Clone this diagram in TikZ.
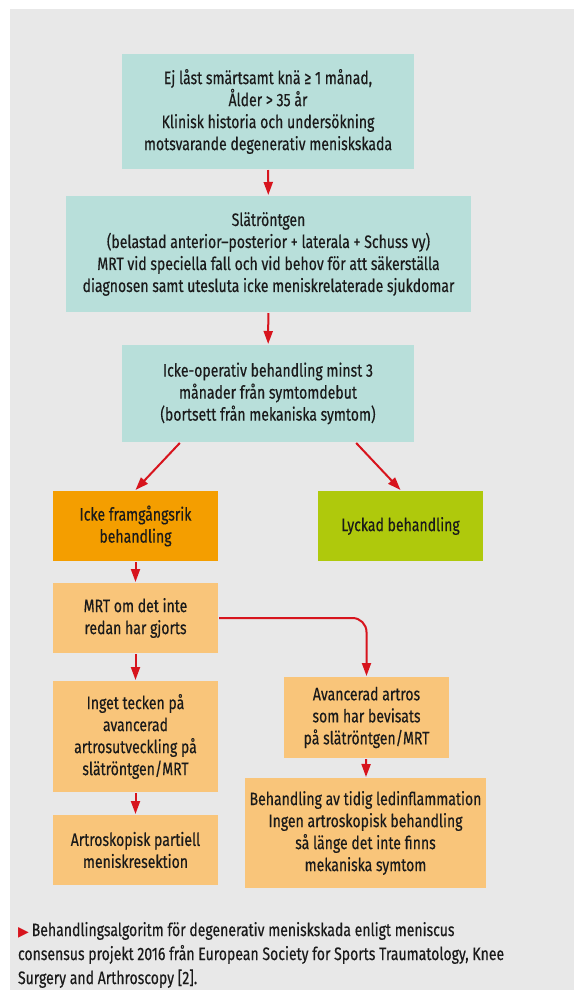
\documentclass[tikz,border=0pt]{standalone}
\usepackage{fontspec}
\setmainfont{Fira Sans}[FakeStretch=0.78,FakeBold=0.4]
\newfontfamily\symfont{DejaVu Sans}
\usetikzlibrary{arrows.meta,positioning,calc}

\definecolor{bggray}{HTML}{E8E8E8}
\definecolor{tealbox}{HTML}{B8DFDA}
\definecolor{darkorange}{HTML}{F49E00}
\definecolor{limegreen}{HTML}{AFC90C}
\definecolor{lightorange}{HTML}{F9C57A}
\definecolor{arrowred}{HTML}{D7141D}
\definecolor{inkblack}{HTML}{1A1A1A}

\begin{document}
\begin{tikzpicture}[->,>={Triangle[length=13pt,width=9pt]},x=1pt,y=-1pt,line width=2pt,draw=arrowred]

            \tikzstyle{every node}=[text=inkblack,font=\fontsize{18}{22}\selectfont,align=center,inner sep=2pt]
            \tikzstyle{box}=[rectangle,minimum width=165pt,minimum height=70pt]
            \tikzstyle{first}=[box,fill=tealbox]
            \tikzstyle{fail}=[box,fill=darkorange]
            \tikzstyle{good}=[box,fill=limegreen]
            \tikzstyle{next}=[box,fill=lightorange]

            \useasboundingbox (0,0) rectangle (574,990);
            \fill[-,bggray] (10,9) rectangle (574,990);

            \node[first,minimum width=292pt,minimum height=115pt] (start)  at (268,111.5)
                {Ej låst smärtsamt knä ≥ 1 månad,\\Ålder > 35 år\\Klinisk historia och undersökning\\motsvarande degenerativ meniskskada};
            \node[first,minimum width=405pt,minimum height=116pt] (xray)   at (268.5,254)
                {Slätröntgen\\(belastad anterior–posterior + laterala + Schuss vy)\\MRT vid speciella fall och vid behov för att säkerställa\\diagnosen samt utesluta icke meniskrelaterade sjukdomar};
            \node[first,minimum width=292pt,minimum height=97pt]  (treat)  at (268,393.5)
                {Icke-operativ behandling minst 3\\månader från symtomdebut\\(bortsett från mekaniska symtom)};
            \node[fail]                                           (nogo)   at (135.5,526)
                {Icke framgångsrik\\behandling};
            \node[good]                                           (ok)     at (400.5,526)
                {Lyckad behandling};
            \node[next]                                           (mrt)    at (135.5,618)
                {MRT om det inte\\redan har gjorts};
            \node[next,minimum height=111pt]                      (nosign) at (135.5,736.5)
                {Inget tecken på\\avancerad\\artrosutveckling på\\slätröntgen/MRT};
            \node[next,minimum height=81pt]                       (artros) at (366.5,717.5)
                {Avancerad artros\\som har bevisats\\på slätröntgen/MRT};
            \node[next]                                           (scope)  at (135.5,850)
                {Artroskopisk partiell\\meniskresektion};
            \node[next,minimum width=241pt,minimum height=110pt]  (early)  at (365.5,833)
                {Behandling av tidig ledinflammation\\Ingen artroskopisk behandling\\så länge det inte finns\\mekaniska symtom};

            \node[anchor=north west,align=left,font=\fontsize{18}{24}\selectfont,inner sep=0pt] (caption) at (17,921)
                {{\color{arrowred}\symfont\fontsize{14}{24}\selectfont ▶}\,Behandlingsalgoritm för degenerativ meniskskada enligt meniscus\\consensus projekt 2016 från European Society for Sports Traumatology, Knee\\Surgery and Arthroscopy [2].};

            \draw (start) -- (xray);
            \draw (xray) -- (treat);
            \draw ($(treat.south west)!0.2!(treat.south east)$) -- (nogo.north);
            \draw ($(treat.south west)!0.8!(treat.south east)$) -- (ok.north);
            \draw (nogo) -- (mrt);
            \draw (mrt) -- (nosign);
            \draw (nosign) -- (scope);
            \draw[rounded corners=14pt] (mrt.east) -| (artros.north);
            \draw (artros) -- (early);
        \end{tikzpicture}
\end{document}
